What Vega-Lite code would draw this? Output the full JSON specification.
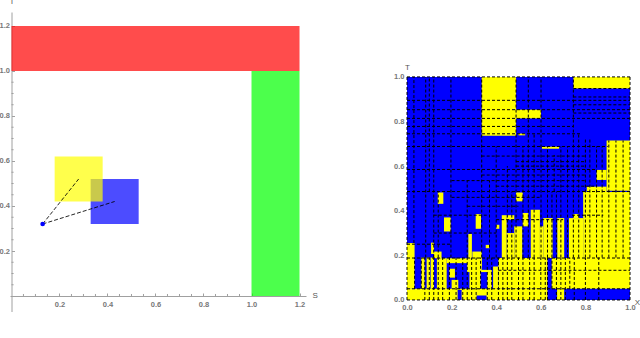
{"$schema":"https://vega.github.io/schema/vega-lite/v6.json","padding":{"left":-1,"top":-3,"right":0,"bottom":0},"bounds":"flush","spacing":101,"config":{"view":{"stroke":null},"axis":{"grid":false,"labelFont":"Liberation Sans","titleFont":"Liberation Sans","labelColor":"#777777","titleColor":"#555555","labelFontSize":7.5,"labelFontWeight":"bold","titleFontSize":8,"titleFontWeight":"normal","labelOverlap":false,"labelBound":false,"labelFlush":false,"domainColor":"#a0a0a0","tickColor":"#a0a0a0"}},"hconcat":[{"width":296,"height":300,"layer":[{"data":{"values":[{"a":0,"b":1.2,"c":1,"d":1.2,"k":"#ff0000"},{"a":1,"b":1.2,"c":0,"d":1,"k":"#00ff00"},{"a":0.33,"b":0.53,"c":0.32,"d":0.52,"k":"#0000ff"},{"a":0.18,"b":0.38,"c":0.42,"d":0.62,"k":"#ffff00"}]},"mark":{"type":"rect","opacity":0.7},"encoding":{"x":{"field":"a","type":"quantitative","scale":{"domain":[-0.006,1.227],"nice":false,"zero":false},"axis":{"orient":"bottom","offset":-16,"values":[0.2,0.4,0.6,0.8,1,1.2],"format":".1f","tickSize":-3,"labelPadding":7,"title":"S","titleX":302,"titleY":-1,"titleAlign":"left","titleBaseline":"middle"}},"x2":{"field":"b"},"y":{"field":"c","type":"quantitative","scale":{"domain":[-0.071,1.262],"nice":false,"zero":false},"axis":{"orient":"left","offset":-1.5,"values":[0.2,0.4,0.6,0.8,1,1.2],"format":".1f","tickSize":-3,"labelPadding":5,"title":"T","titleX":0,"titleY":-11,"titleAngle":0,"titleAlign":"center","titleBaseline":"middle"}},"y2":{"field":"d"},"color":{"field":"k","type":"nominal","scale":null}}},{"data":{"values":[{"a":0.05,"b":0.05,"c":0,"d":0.009},{"a":0.1,"b":0.1,"c":0,"d":0.009},{"a":0.15,"b":0.15,"c":0,"d":0.009},{"a":0.25,"b":0.25,"c":0,"d":0.009},{"a":0.3,"b":0.3,"c":0,"d":0.009},{"a":0.35,"b":0.35,"c":0,"d":0.009},{"a":0.45,"b":0.45,"c":0,"d":0.009},{"a":0.5,"b":0.5,"c":0,"d":0.009},{"a":0.55,"b":0.55,"c":0,"d":0.009},{"a":0.65,"b":0.65,"c":0,"d":0.009},{"a":0.7,"b":0.7,"c":0,"d":0.009},{"a":0.75,"b":0.75,"c":0,"d":0.009},{"a":0.85,"b":0.85,"c":0,"d":0.009},{"a":0.9,"b":0.9,"c":0,"d":0.009},{"a":0.95,"b":0.95,"c":0,"d":0.009},{"a":0,"b":0.009,"c":0.05,"d":0.05},{"a":0,"b":0.009,"c":0.1,"d":0.1},{"a":0,"b":0.009,"c":0.15,"d":0.15},{"a":0,"b":0.009,"c":0.25,"d":0.25},{"a":0,"b":0.009,"c":0.3,"d":0.3},{"a":0,"b":0.009,"c":0.35,"d":0.35},{"a":0,"b":0.009,"c":0.45,"d":0.45},{"a":0,"b":0.009,"c":0.5,"d":0.5},{"a":0,"b":0.009,"c":0.55,"d":0.55},{"a":0,"b":0.009,"c":0.65,"d":0.65},{"a":0,"b":0.009,"c":0.7,"d":0.7},{"a":0,"b":0.009,"c":0.75,"d":0.75},{"a":0,"b":0.009,"c":0.85,"d":0.85},{"a":0,"b":0.009,"c":0.9,"d":0.9},{"a":0,"b":0.009,"c":0.95,"d":0.95}]},"mark":{"type":"rule","color":"#a0a0a0","strokeWidth":1},"encoding":{"x":{"field":"a","type":"quantitative"},"x2":{"field":"b"},"y":{"field":"c","type":"quantitative"},"y2":{"field":"d"}}},{"data":{"values":[{"a":0.13,"b":0.28,"c":0.32,"d":0.52},{"a":0.13,"b":0.43,"c":0.32,"d":0.42}]},"mark":{"type":"rule","color":"#000000","strokeWidth":1,"strokeDash":[4,2],"opacity":0.85},"encoding":{"x":{"field":"a","type":"quantitative"},"x2":{"field":"b"},"y":{"field":"c","type":"quantitative"},"y2":{"field":"d"}}},{"data":{"values":[{"a":0.13,"c":0.32}]},"mark":{"type":"point","filled":true,"color":"#0000ff","size":22,"opacity":1},"encoding":{"x":{"field":"a","type":"quantitative"},"y":{"field":"c","type":"quantitative"}}}]},{"width":223,"height":300,"layer":[{"data":{"values":[{"a":0,"b":1,"c":0,"d":1,"k":"#0000ff"},{"a":0.335,"b":0.489,"c":0.736,"d":1,"k":"#ffff00"},{"a":0.746,"b":1,"c":0.948,"d":1,"k":"#ffff00"},{"a":0.489,"b":0.601,"c":0.814,"d":0.853,"k":"#ffff00"},{"a":0.605,"b":0.682,"c":0.678,"d":0.687,"k":"#ffff00"},{"a":0.895,"b":1,"c":0.49,"d":0.715,"k":"#ffff00"},{"a":0.85,"b":0.895,"c":0.538,"d":0.583,"k":"#ffff00"},{"a":0.806,"b":0.895,"c":0.484,"d":0.508,"k":"#ffff00"},{"a":0.79,"b":1,"c":0.188,"d":0.484,"k":"#ffff00"},{"a":0.138,"b":0.163,"c":0.431,"d":0.482,"k":"#ffff00"},{"a":0.166,"b":0.196,"c":0.307,"d":0.37,"k":"#ffff00"},{"a":0.308,"b":0.332,"c":0.319,"d":0.385,"k":"#ffff00"},{"a":0.489,"b":0.519,"c":0.442,"d":0.482,"k":"#ffff00"},{"a":0.4,"b":0.414,"c":0.319,"d":0.337,"k":"#ffff00"},{"a":0.5,"b":0.53,"c":0.738,"d":0.746,"k":"#ffff00"},{"a":0.425,"b":0.447,"c":0.188,"d":0.38,"k":"#ffff00"},{"a":0.447,"b":0.481,"c":0.36,"d":0.38,"k":"#ffff00"},{"a":0.447,"b":0.481,"c":0.188,"d":0.3,"k":"#ffff00"},{"a":0.481,"b":0.517,"c":0.188,"d":0.33,"k":"#ffff00"},{"a":0.519,"b":0.544,"c":0.33,"d":0.39,"k":"#ffff00"},{"a":0.555,"b":0.596,"c":0.188,"d":0.404,"k":"#ffff00"},{"a":0.596,"b":0.611,"c":0.188,"d":0.33,"k":"#ffff00"},{"a":0.611,"b":0.653,"c":0.188,"d":0.367,"k":"#ffff00"},{"a":0.674,"b":0.705,"c":0.188,"d":0.367,"k":"#ffff00"},{"a":0.726,"b":0.79,"c":0.188,"d":0.367,"k":"#ffff00"},{"a":0.745,"b":0.77,"c":0.367,"d":0.385,"k":"#ffff00"},{"a":0.275,"b":0.291,"c":0.188,"d":0.296,"k":"#ffff00"},{"a":0.293,"b":0.335,"c":0.15,"d":0.217,"k":"#ffff00"},{"a":0.353,"b":0.369,"c":0.232,"d":0.247,"k":"#ffff00"},{"a":0,"b":0.034,"c":0.05,"d":0.255,"k":"#ffff00"},{"a":0,"b":0.63,"c":0,"d":0.05,"k":"#ffff00"},{"a":0.064,"b":0.079,"c":0.05,"d":0.19,"k":"#ffff00"},{"a":0.088,"b":0.103,"c":0.05,"d":0.19,"k":"#ffff00"},{"a":0.106,"b":0.121,"c":0.05,"d":0.19,"k":"#ffff00"},{"a":0.108,"b":0.121,"c":0.206,"d":0.257,"k":"#ffff00"},{"a":0.121,"b":0.155,"c":0.187,"d":0.217,"k":"#ffff00"},{"a":0.134,"b":0.178,"c":0.05,"d":0.187,"k":"#ffff00"},{"a":0.178,"b":0.285,"c":0.165,"d":0.187,"k":"#ffff00"},{"a":0.27,"b":0.335,"c":0.13,"d":0.187,"k":"#ffff00"},{"a":0.28,"b":0.33,"c":0.05,"d":0.13,"k":"#ffff00"},{"a":0.2,"b":0.23,"c":0.05,"d":0.09,"k":"#ffff00"},{"a":0.19,"b":0.215,"c":0.1,"d":0.14,"k":"#ffff00"},{"a":0.36,"b":0.38,"c":0.05,"d":0.125,"k":"#ffff00"},{"a":0.27,"b":0.38,"c":0.125,"d":0.135,"k":"#ffff00"},{"a":0.386,"b":0.41,"c":0.05,"d":0.15,"k":"#ffff00"},{"a":0.41,"b":0.63,"c":0.05,"d":0.188,"k":"#ffff00"},{"a":0.649,"b":1,"c":0.05,"d":0.188,"k":"#ffff00"},{"a":0.673,"b":0.705,"c":0,"d":0.05,"k":"#ffff00"},{"a":0.227,"b":0.245,"c":0,"d":0.045,"k":"#0000ff"},{"a":0.312,"b":0.357,"c":0,"d":0.02,"k":"#0000ff"}]},"mark":{"type":"rect"},"encoding":{"x":{"field":"a","type":"quantitative","scale":{"domain":[0,1],"nice":false,"zero":false},"axis":{"orient":"bottom","offset":-12,"values":[0,0.2,0.4,0.6,0.8,1],"format":".1f","domain":false,"ticks":false,"labelPadding":3,"title":"X","titleX":230,"titleY":2,"titleAlign":"center","titleBaseline":"middle"}},"x2":{"field":"b"},"y":{"field":"c","type":"quantitative","scale":{"domain":[-0.054,1.291],"nice":false,"zero":false},"axis":{"orient":"left","values":[0,0.2,0.4,0.6,0.8,1],"format":".1f","domain":false,"ticks":false,"labelPadding":3,"title":"T","titleX":0,"titleY":55,"titleAngle":0,"titleAlign":"center","titleBaseline":"middle"}},"y2":{"field":"d"},"color":{"field":"k","type":"nominal","scale":null}}},{"data":{"values":[{"a":0,"b":1,"c":1,"d":1},{"a":0,"b":1,"c":0,"d":0},{"a":0,"b":0,"c":0,"d":1},{"a":1,"b":1,"c":0,"d":1},{"a":0,"b":0.746,"c":0.895,"d":0.895},{"a":0,"b":1,"c":0.853,"d":0.853},{"a":0,"b":1,"c":0.814,"d":0.814},{"a":0,"b":0.746,"c":0.778,"d":0.778},{"a":0,"b":0.78,"c":0.745,"d":0.745},{"a":0,"b":0.9,"c":0.688,"d":0.688},{"a":0,"b":0.85,"c":0.585,"d":0.585},{"a":0,"b":1,"c":0.486,"d":0.486},{"a":0,"b":1,"c":0.188,"d":0.188},{"a":0,"b":1,"c":0.05,"d":0.05},{"a":0.41,"b":1,"c":0.133,"d":0.133},{"a":0.746,"b":1,"c":0.948,"d":0.948},{"a":0.746,"b":1,"c":0.91,"d":0.91},{"a":0.746,"b":1,"c":0.895,"d":0.895},{"a":0.746,"b":1,"c":0.875,"d":0.875},{"a":0.746,"b":1,"c":0.838,"d":0.838},{"a":0.335,"b":0.8,"c":0.645,"d":0.645},{"a":0.489,"b":0.8,"c":0.62,"d":0.62},{"a":0.489,"b":0.8,"c":0.6,"d":0.6},{"a":0.2,"b":0.8,"c":0.535,"d":0.535},{"a":0.335,"b":0.8,"c":0.56,"d":0.56},{"a":0.4,"b":0.85,"c":0.51,"d":0.51},{"a":0.2,"b":0.6,"c":0.46,"d":0.46},{"a":0.12,"b":0.36,"c":0.38,"d":0.38},{"a":0.27,"b":0.5,"c":0.42,"d":0.42},{"a":0.4,"b":0.7,"c":0.36,"d":0.36},{"a":0.74,"b":0.88,"c":0.38,"d":0.38},{"a":0,"b":0.2,"c":0.25,"d":0.25},{"a":0.12,"b":0.4,"c":0.3,"d":0.3},{"a":0.031,"b":0.031,"c":0.255,"d":1},{"a":0.084,"b":0.084,"c":0.19,"d":1},{"a":0.1,"b":0.1,"c":0.486,"d":1},{"a":0.12,"b":0.12,"c":0.19,"d":1},{"a":0.197,"b":0.197,"c":0.19,"d":1},{"a":0.335,"b":0.335,"c":0.19,"d":1},{"a":0.489,"b":0.489,"c":0.19,"d":1},{"a":0.544,"b":0.544,"c":0.19,"d":1},{"a":0.601,"b":0.601,"c":0.19,"d":1},{"a":0.746,"b":0.746,"c":0.19,"d":1},{"a":0.14,"b":0.14,"c":0.19,"d":0.486},{"a":0.27,"b":0.27,"c":0.19,"d":0.535},{"a":0.37,"b":0.37,"c":0.19,"d":0.535},{"a":0.4,"b":0.4,"c":0.19,"d":0.688},{"a":0.45,"b":0.45,"c":0.19,"d":0.6},{"a":0.47,"b":0.47,"c":0.19,"d":0.486},{"a":0.52,"b":0.52,"c":0.19,"d":0.688},{"a":0.57,"b":0.57,"c":0.19,"d":0.745},{"a":0.63,"b":0.63,"c":0.19,"d":0.688},{"a":0.65,"b":0.65,"c":0.19,"d":0.486},{"a":0.66,"b":0.66,"c":0.486,"d":0.65},{"a":0.67,"b":0.67,"c":0.19,"d":0.486},{"a":0.69,"b":0.69,"c":0.19,"d":0.688},{"a":0.72,"b":0.72,"c":0.19,"d":0.688},{"a":0.77,"b":0.77,"c":0.19,"d":0.745},{"a":0.8,"b":0.8,"c":0.19,"d":0.72},{"a":0.82,"b":0.82,"c":0.19,"d":0.72},{"a":0.85,"b":0.85,"c":0.19,"d":0.688},{"a":0.875,"b":0.875,"c":0.19,"d":0.688},{"a":0.905,"b":0.905,"c":0.19,"d":0.715},{"a":0.937,"b":0.937,"c":0.19,"d":0.715},{"a":0.969,"b":0.969,"c":0.19,"d":0.715},{"a":0.034,"b":0.034,"c":0.05,"d":0.19},{"a":0.064,"b":0.064,"c":0.05,"d":0.19},{"a":0.08,"b":0.08,"c":0,"d":0.19},{"a":0.1,"b":0.1,"c":0,"d":0.19},{"a":0.12,"b":0.12,"c":0,"d":0.19},{"a":0.14,"b":0.14,"c":0,"d":0.19},{"a":0.16,"b":0.16,"c":0,"d":0.19},{"a":0.19,"b":0.19,"c":0,"d":0.19},{"a":0.22,"b":0.22,"c":0,"d":0.19},{"a":0.25,"b":0.25,"c":0,"d":0.19},{"a":0.27,"b":0.27,"c":0,"d":0.19},{"a":0.29,"b":0.29,"c":0,"d":0.19},{"a":0.31,"b":0.31,"c":0,"d":0.19},{"a":0.33,"b":0.33,"c":0.05,"d":0.19},{"a":0.36,"b":0.36,"c":0,"d":0.19},{"a":0.38,"b":0.38,"c":0,"d":0.19},{"a":0.41,"b":0.41,"c":0,"d":0.19},{"a":0.43,"b":0.43,"c":0,"d":0.19},{"a":0.45,"b":0.45,"c":0,"d":0.19},{"a":0.47,"b":0.47,"c":0,"d":0.19},{"a":0.5,"b":0.5,"c":0,"d":0.19},{"a":0.52,"b":0.52,"c":0,"d":0.19},{"a":0.55,"b":0.55,"c":0,"d":0.19},{"a":0.57,"b":0.57,"c":0,"d":0.19},{"a":0.6,"b":0.6,"c":0,"d":0.19},{"a":0.62,"b":0.62,"c":0,"d":0.19},{"a":0.63,"b":0.63,"c":0,"d":0.19},{"a":0.65,"b":0.65,"c":0.05,"d":0.19},{"a":0.67,"b":0.67,"c":0,"d":0.19},{"a":0.69,"b":0.69,"c":0,"d":0.19},{"a":0.71,"b":0.71,"c":0,"d":0.19},{"a":0.73,"b":0.73,"c":0.05,"d":0.19},{"a":0.75,"b":0.75,"c":0,"d":0.19},{"a":0.8,"b":0.8,"c":0,"d":0.19},{"a":0.86,"b":0.86,"c":0,"d":0.19}]},"mark":{"type":"rule","color":"#000000","strokeWidth":1,"strokeDash":[3,2]},"encoding":{"x":{"field":"a","type":"quantitative"},"x2":{"field":"b"},"y":{"field":"c","type":"quantitative"},"y2":{"field":"d"}}}]}]}
